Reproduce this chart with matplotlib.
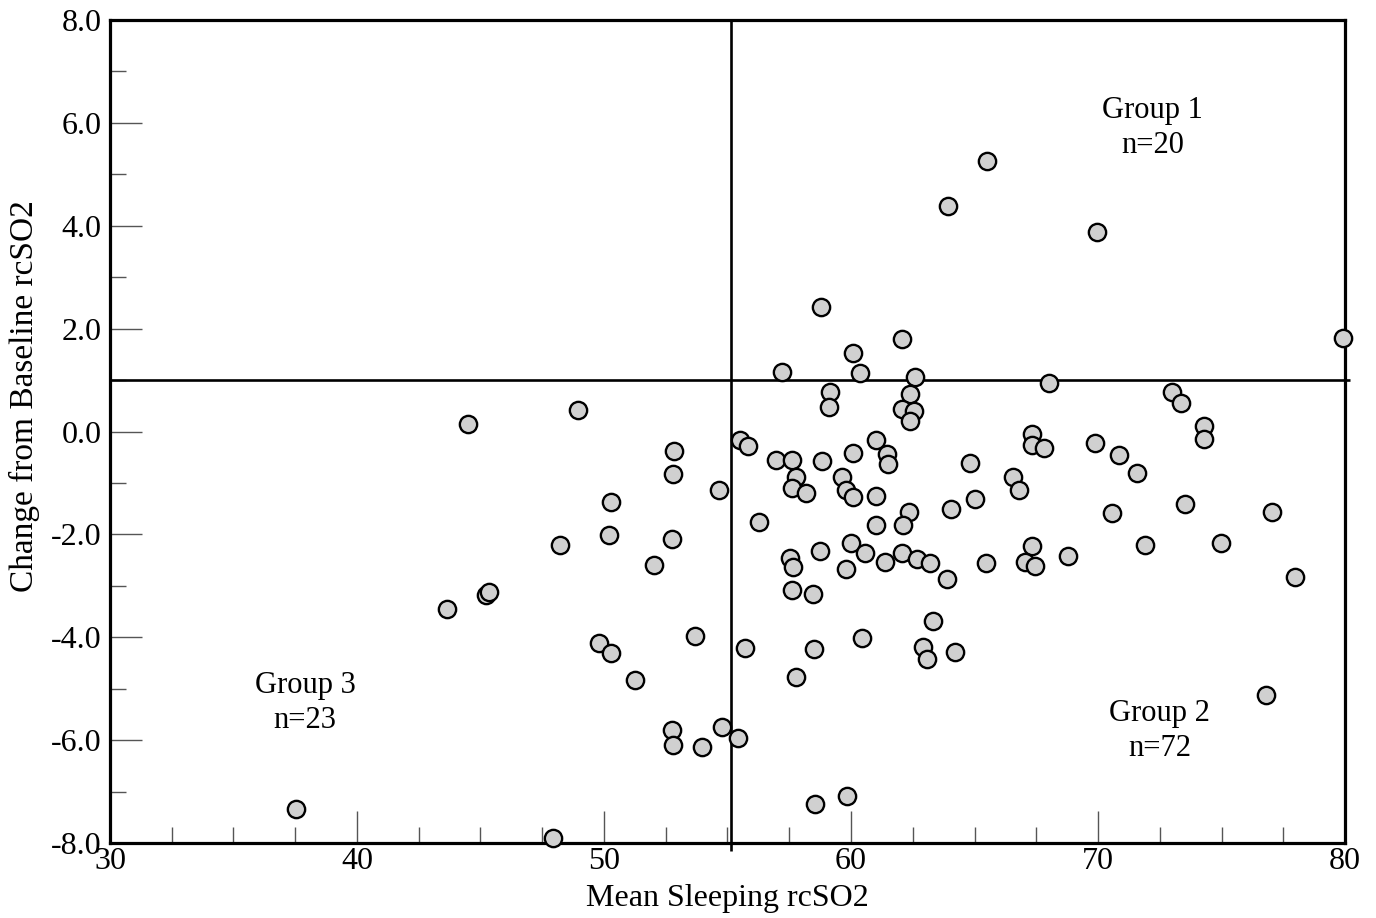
import matplotlib
matplotlib.use("Agg")
import matplotlib.pyplot as plt
from matplotlib.ticker import MultipleLocator, FormatStrFormatter

plt.rcParams["font.family"] = ["Liberation Serif", "DejaVu Serif"]

# Mean sleeping rcSO2 (x) and change from baseline rcSO2 (y)
group3_x = [37.53, 43.64, 45.22, 45.33, 44.5, 48.93, 48.22, 50.29, 50.21, 52.83, 52.81,
            54.66, 52.74, 52.01, 53.7, 49.8, 50.29, 51.27, 52.75, 52.78, 53.97, 54.78, 47.94]
group3_y = [-7.34, -3.45, -3.18, -3.12, 0.15, 0.42, -2.21, -1.38, -2.02, -0.38, -0.82,
            -1.13, -2.09, -2.6, -3.98, -4.11, -4.31, -4.84, -5.8, -6.09, -6.14, -5.75, -7.9]

group1_x = [65.49, 63.91, 69.95, 58.77, 62.06, 60.07, 57.22, 60.38, 62.6, 79.9]
group1_y = [5.26, 4.38, 3.87, 2.43, 1.79, 1.53, 1.15, 1.13, 1.06, 1.82]

group2_x = [55.52, 55.84, 56.96, 57.61, 57.76, 57.61, 58.16, 56.28, 57.53, 57.64,
            57.62, 55.71, 57.76, 55.44, 58.81, 59.63, 60.09, 61.02, 61.46, 61.48,
            64.82, 66.57, 67.33, 67.33, 67.8, 69.89, 59.78, 60.1, 61.0, 61.0,
            62.33, 62.09, 64.06, 65.0, 66.8, 70.86, 70.57, 58.74, 60.0, 59.81,
            60.58, 61.39, 62.05, 62.69, 63.18, 63.9, 65.47, 67.31, 67.04, 67.45,
            68.8, 58.45, 63.32, 60.45, 58.5, 62.9, 63.08, 64.23, 58.54, 59.84,
            73.0, 73.37, 74.29, 74.29, 71.56, 73.52, 77.04, 71.9, 74.99, 77.96,
            76.81, 59.15, 59.09, 62.37, 62.08, 62.54, 62.37, 68.0]
group2_y = [-0.165, -0.29, -0.56, -0.56, -0.89, -1.09, -1.19, -1.75, -2.46, -2.63,
            -3.09, -4.2, -4.78, -5.96, -0.57, -0.89, -0.42, -0.165, -0.44, -0.63,
            -0.62, -0.88, -0.05, -0.26, -0.33, -0.23, -1.14, -1.28, -1.26, -1.82,
            -1.57, -1.81, -1.5, -1.32, -1.14, -0.45, -1.59, -2.32, -2.16, -2.68,
            -2.37, -2.54, -2.37, -2.48, -2.55, -2.87, -2.55, -2.22, -2.54, -2.61,
            -2.42, -3.15, -3.68, -4.01, -4.22, -4.19, -4.43, -4.28, -7.24, -7.09,
            0.77, 0.55, 0.10, -0.15, -0.81, -1.4, -1.56, -2.2, -2.17, -2.83,
            -5.12, 0.76, 0.48, 0.72, 0.43, 0.40, 0.21, 0.94]

x_cut = 55.15
y_cut = 1.0

group_labels = ["Group 1\nn=20", "Group 2\nn=72", "Group 3\nn=23"]
label_x = [72.2, 72.5, 37.9]
label_y = [5.9, -5.82, -5.28]

fig = plt.figure(figsize=(13.76, 9.18), dpi=100)
ax = fig.add_axes([0.0799, 0.0817, 0.8976, 0.8965])

# quadrant lines
ax.vlines(x_cut, -8.15, 8.0, color="black", lw=1.9, clip_on=False, zorder=2)
ax.hlines(y_cut, 30, 80.2, color="black", lw=1.9, clip_on=False, zorder=2)

all_x = group1_x + group2_x + group3_x
all_y = group1_y + group2_y + group3_y
ax.scatter(all_x, all_y, s=155, c="#d0d0d0", edgecolors="black",
           linewidths=1.7, zorder=3, clip_on=False)

for txt, tx, ty in zip(group_labels, label_x, label_y):
    ax.text(tx, ty, txt, ha="center", va="center", fontsize=22, linespacing=1.3)

ax.set_xlim(30, 80)
ax.set_ylim(-8, 8)
ax.xaxis.set_major_locator(MultipleLocator(10))
ax.xaxis.set_minor_locator(MultipleLocator(2.5))
ax.yaxis.set_major_locator(MultipleLocator(2))
ax.yaxis.set_minor_locator(MultipleLocator(1))
ax.yaxis.set_major_formatter(FormatStrFormatter("%.1f"))

ax.tick_params(which="both", direction="in", color="#555555", width=1.0,
               labelsize=23, top=False, right=False)
ax.tick_params(which="major", length=23)
ax.tick_params(which="minor", length=11.5)
ax.tick_params(axis="y", pad=6)
ax.tick_params(axis="x", pad=3)

for sp in ax.spines.values():
    sp.set_linewidth(2.3)
    sp.set_color("black")

ax.set_xlabel("Mean Sleeping rcSO2", fontsize=23, va="center")
ax.set_ylabel("Change from Baseline rcSO2", fontsize=24, va="center")
ax.xaxis.set_label_coords(0.5, -0.067)
ax.yaxis.set_label_coords(-0.069, 0.543)

fig.savefig("out.png", dpi=100)
